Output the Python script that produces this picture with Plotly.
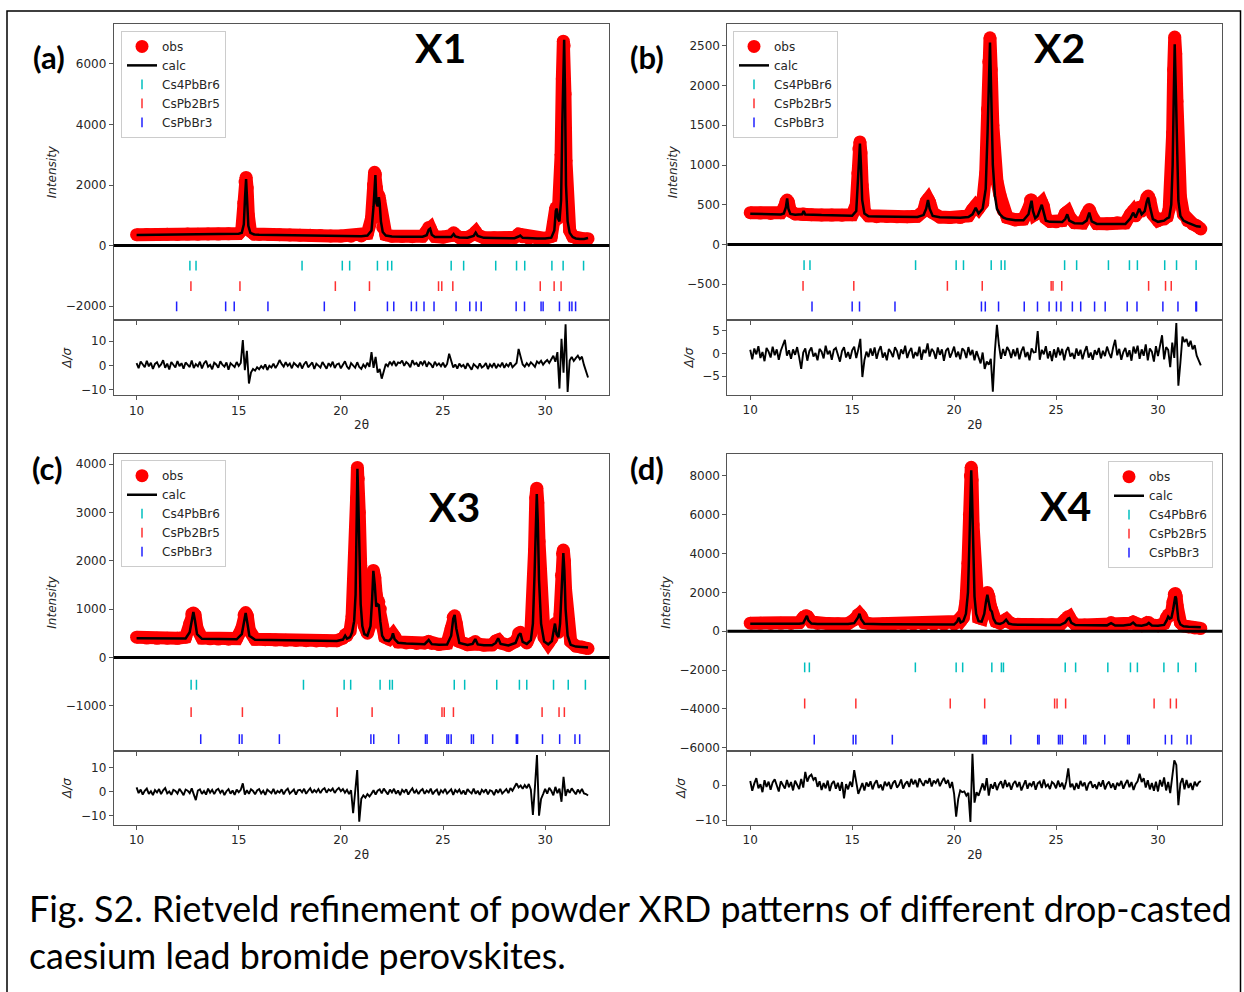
import plotly.graph_objects as go

# ---------------- data ----------------
# Panel (a) X1
x_a = [10.0, 10.5, 11.0, 11.5, 12.0, 12.5, 13.0, 13.5, 14.0, 14.5,
       15.0, 15.15, 15.25, 15.31, 15.36, 15.41, 15.47, 15.57, 15.75, 16.0,
       16.5, 17.0, 17.5, 18.0, 18.5, 19.0, 19.5, 20.0, 20.5, 21.0,
       21.3, 21.5, 21.6, 21.65, 21.69, 21.74, 21.8, 21.86, 21.9, 21.96,
       22.05, 22.2, 22.5, 23.0, 23.5, 24.0, 24.2, 24.3, 24.37, 24.45,
       24.6, 25.0, 25.4, 25.52, 25.6, 25.8, 26.2, 26.5, 26.6, 26.7,
       27.0, 27.5, 28.0, 28.5, 28.7, 28.78, 28.9, 29.2, 29.6, 30.0,
       30.3, 30.45, 30.52, 30.57, 30.63, 30.7, 30.78, 30.84, 30.89, 30.93,
       30.97, 31.02, 31.1, 31.2, 31.35, 31.5, 31.7, 31.9, 32.1]
obs_a = [360, 370, 365, 375, 370, 380, 375, 385, 380, 390,
         400, 520, 1400, 2100, 2250, 1900, 1000, 480, 380, 370,
         365, 360, 350, 345, 340, 330, 320, 315, 310, 320,
         400, 900, 2000, 2420, 2350, 1900, 1600, 1650, 1500, 1100,
         600, 360, 310, 300, 295, 310, 480, 600, 580, 450,
         300, 280, 330, 420, 360, 270, 270, 380, 450, 350,
         260, 255, 250, 270, 380, 370, 290, 240, 235, 240,
         300, 800, 1250, 1200, 900, 1400, 3000, 5500, 6750, 6600,
         5000, 2800, 1100, 500, 300, 250, 230, 220, 230]
calc_a = [350, 355, 358, 360, 362, 365, 368, 372, 375, 380,
          390, 420, 700, 1600, 2200, 1500, 650, 420, 370, 360,
          355, 350, 345, 340, 335, 325, 318, 310, 305, 305,
          330, 500, 1300, 2200, 2330, 1400, 1300, 1600, 1400, 800,
          450, 330, 300, 295, 290, 295, 340, 520, 560, 360,
          285, 275, 280, 380, 300, 265, 262, 320, 430, 320,
          255, 250, 245, 242, 300, 330, 255, 238, 235, 235,
          260, 500, 1150, 1220, 900, 800, 1500, 4000, 6400, 6800,
          5200, 2000, 800, 420, 280, 235, 220, 215, 250]
res_a = [0.9, -1.2, 1.6, 0.2, -0.8, 1.9, -0.4, 1.1, -1.5, 0.6,
         1.3, -0.6, 0.4, 2.1, -1.0, 0.7, -1.7, 1.4, 0.1, -0.9,
         1.8, -0.3, 0.9, -1.4, 1.2, 0.3, -0.7, 2.0, -1.1, 0.5,
         -0.4, 1.5, -1.3, 0.8, 1.9, -0.6, 0.2, -1.6, 1.1, 0.4,
         -1.0, 1.7, 0.3, -0.5, 1.2, -1.8, 0.9, 0.1, -0.7, 1.4,
         -0.2, 1.0, 10.5, -2.0, 6.0, -7.5, -3.0, -1.5, -2.2, -0.8,
         -1.6, -0.3, -1.2, 0.4, -1.9, -0.2, -0.9, 0.7, -1.1, 0.3,
         2.2, 0.6, -0.5, 1.3, -0.2, 0.8, -1.2, 1.0, 0.2, -0.6,
         1.1, -1.3, 0.5, 1.6, -0.8, 0.3, 1.2, -1.5, 0.7, -0.1,
         -0.9, 1.4, 0.2, -1.4, 0.9, -0.3, 1.5, -1.1, 0.4, 0.8,
         -1.2, 0.6, 1.7, -0.5, -1.6, 0.9, 0.1, -1.0, 1.3, -0.7,
         -1.5, 0.3, -0.8, 1.1, -0.6, 5.5, -1.0, 3.5, -3.0, -1.5,
         -5.5, -2.0, 0.6, -0.4, 1.5, 0.2, 1.8, -0.3, 1.2, 0.9,
         2.0, -0.2, 1.4, 0.6, -0.8, 2.1, 0.4, 1.0, -0.5, 1.6,
         0.3, 1.9, -0.6, 1.2, 0.5, -1.0, 1.5, 0.0, 0.8, -0.4,
         1.1, -0.8, 0.6, 4.8, 1.5, -0.9, 0.4, -1.3, 0.7, -0.5,
         0.2, -1.4, 0.9, -0.6, -1.8, 0.5, -0.2, -1.1, 0.8, -0.9,
         -0.3, 1.0, -1.5, 0.4, -0.7, 0.9, -1.2, 0.3, -0.5, 1.1,
         -1.0, 0.5, -0.4, 1.2, -0.8, 0.2, 1.0, 6.8, 3.0, 0.4,
         -0.5, 0.9, -0.2, 1.3, 0.4, -0.6, 1.6, 0.8, 1.9, 0.3,
         1.4, 2.2, 1.0, 2.6, 4.0, 1.5, 5.5, -9.6, 11.0, -3.0,
         17.0, -11.0, 2.0, 3.5, 1.8, 3.0, 4.0, 2.5, 3.6, 0.2,
         -3.0, -5.0]
cs4_a = [12.61, 12.91, 18.10, 20.07, 20.43, 21.79, 22.29, 22.49, 25.40, 26.01,
         27.58, 28.60, 29.00, 30.33, 30.88, 31.88]
cs2_a = [12.66, 15.06, 19.73, 21.40, 24.78, 24.94, 25.48, 29.76, 30.44, 30.78]
cs3_a = [11.96, 14.36, 14.78, 16.43, 19.19, 20.68, 22.28, 22.59, 23.45, 23.70,
         24.07, 24.56, 25.64, 26.31, 26.62, 26.87, 28.58, 28.99, 29.80, 29.90,
         30.70, 31.19, 31.31, 31.49]
lev_a = [-660, -1335, -2010]

# Panel (b) X2
x_b = [10.0, 10.5, 11.0, 11.5, 11.65, 11.75, 11.81, 11.87, 11.97, 12.2,
       12.55, 12.62, 12.7, 13.0, 13.5, 14.0, 14.5, 15.0, 15.2, 15.28,
       15.33, 15.38, 15.43, 15.49, 15.6, 15.8, 16.2, 16.7, 17.2, 17.7,
       18.2, 18.5, 18.63, 18.72, 18.8, 18.95, 19.3, 19.8, 20.3, 20.7,
       20.9, 21.06, 21.2, 21.4, 21.55, 21.64, 21.7, 21.76, 21.82, 21.9,
       22.0, 22.1, 22.25, 22.4, 22.6, 23.0, 23.4, 23.65, 23.75, 23.8,
       23.87, 23.98, 24.1, 24.22, 24.3, 24.38, 24.5, 24.7, 25.0, 25.3,
       25.45, 25.55, 25.65, 25.9, 26.3, 26.5, 26.63, 26.75, 27.0, 27.5,
       28.0, 28.4, 28.65, 28.78, 28.9, 29.0, 29.08, 29.2, 29.35, 29.45,
       29.52, 29.6, 29.75, 30.0, 30.3, 30.45, 30.55, 30.65, 30.72, 30.77,
       30.82, 30.87, 30.93, 31.0, 31.1, 31.25, 31.45, 31.7, 31.9, 32.1]
obs_b = [400, 395, 390, 400, 460, 540, 560, 530, 420, 385,
         380, 385, 378, 375, 372, 370, 368, 375, 500, 900,
         1200, 1290, 1150, 750, 420, 360, 350, 352, 348, 350,
         355, 420, 540, 570, 530, 400, 345, 340, 338, 360,
         440, 490, 450, 520, 900, 1700, 2300, 2600, 2200, 1500,
         1000, 800, 620, 430, 340, 310, 320, 450, 560, 560,
         500, 380, 400, 510, 530, 480, 330, 290, 285, 300,
         390, 410, 350, 275, 270, 380, 440, 360, 262, 260,
         275, 270, 380, 420, 360, 420, 470, 420, 480, 590,
         610, 560, 380, 300, 320, 350, 450, 800, 1400, 2200,
         2610, 2400, 1800, 1000, 600, 380, 300, 260, 235, 195]
calc_b = [388, 385, 382, 378, 390, 470, 580, 450, 385, 375,
          380, 420, 378, 372, 370, 368, 365, 362, 420, 800,
          1150, 1270, 1000, 560, 390, 355, 352, 350, 348, 346,
          346, 370, 450, 560, 450, 360, 342, 338, 336, 345,
          380, 460, 390, 450, 700, 1400, 2100, 2540, 1900, 1000,
          620, 450, 380, 340, 320, 305, 305, 380, 500, 550,
          420, 330, 360, 450, 500, 420, 300, 285, 282, 282,
          320, 380, 300, 268, 264, 300, 400, 290, 258, 255,
          252, 258, 330, 400, 340, 390, 450, 380, 420, 540,
          590, 480, 320, 285, 300, 330, 340, 500, 1000, 1800,
          2520, 2000, 1100, 550, 360, 300, 275, 245, 228, 222]
res_b = [0.8, -1.3, 1.1, -0.2, 1.6, -1.0, 0.3, -1.7, 1.2, 0.4,
         -0.9, 1.5, -0.4, 0.9, -1.4, 0.6, 1.8, 3.0, -0.5, 0.7,
         -1.2, 0.9, -0.3, 1.4, -0.8, -3.4, 0.2, 1.1, -1.6, 0.5,
         1.3, -0.7, 0.1, -1.5, 1.0, 0.4, -1.1, 1.7, -0.2, 0.6,
         -1.4, 0.8, 1.2, -0.6, -1.8, 0.5, 1.4, -0.9, 0.3, -1.2,
         0.7, 1.5, -1.0, 0.9, 3.2, -5.2, -1.5, 0.4, -0.8, 1.1,
         -0.5, 1.3, -1.2, 0.6, 1.6, -0.9, 0.2, -1.5, 1.0, 0.3,
         -0.8, 1.4, 0.5, -1.3, 0.9, -0.1, 1.7, -1.0, 0.4, 1.2,
         -1.1, 0.3, -0.6, 1.5, -1.4, 0.8, 0.1, 2.2, -0.7, 1.0,
         0.4, -1.2, 1.3, -0.3, 0.9, -1.6, 0.6, 1.2, -0.9, 0.2,
         1.5, -0.8, 0.4, -1.3, 1.1, 0.6, -1.0, 1.4, -0.4, 0.8,
         -1.5, 0.5, -1.0, -2.2, 0.2, -3.4, -1.8, -2.5, -1.2, -8.4,
         0.5, 6.3, 1.8, -1.2, 1.0, -0.5, 1.4, 0.6, -1.0, 0.9,
         -0.6, 1.2, -1.3, 0.5, 1.5, -0.8, 0.3, -1.5, 1.1, 0.2,
         0.3, 4.9, -1.4, 0.8, -0.2, 1.6, -1.1, 0.5, -1.7, 0.9,
         -0.9, 1.3, -0.4, 1.0, -1.5, 0.6, 1.4, -0.7, 0.1, -1.2,
         1.1, -0.5, 0.8, -1.3, 0.4, 1.6, -0.9, 0.2, -1.4, 0.7,
         -0.3, 1.2, -1.1, 0.6, -0.6, 1.5, 0.1, -1.0, 1.3, 3.0,
         -0.4, 1.0, -1.4, 0.3, 1.2, -0.8, 0.7, -1.6, 1.5, 0.0,
         1.7, -1.2, 0.9, -0.5, 2.0, -1.5, 1.1, 0.4, -1.8, 1.6,
         -0.6, 2.1, 4.0, -1.3, 1.4, 0.8, -3.0, 2.4, -1.0, 6.7,
         -7.1, -2.0, 3.7, 2.5, 3.2, 1.5, 2.8, 0.9, 1.8, -0.5,
         -1.5, -2.6]
cs4_b = [12.64, 12.93, 18.11, 20.10, 20.46, 21.82, 22.31, 22.49, 25.42, 26.01,
         27.57, 28.60, 28.99, 30.33, 30.91, 31.87]
cs2_b = [12.59, 15.08, 19.67, 21.38, 24.76, 24.85, 25.28, 29.54, 30.37, 30.65]
cs3_b = [13.03, 15.00, 15.36, 17.10, 21.34, 21.53, 22.18, 23.44, 24.09, 24.66,
         25.02, 25.24, 25.80, 26.21, 26.89, 27.41, 28.49, 28.97, 30.24, 30.98,
         31.86, 31.89]
lev_b = [-260, -520, -780]

# Panel (c) X3
x_c = [10.0, 10.5, 11.0, 11.5, 12.0, 12.4, 12.6, 12.7, 12.78, 12.86,
       12.96, 13.2, 13.6, 14.0, 14.5, 14.9, 15.15, 15.26, 15.34, 15.42,
       15.52, 15.8, 16.3, 16.8, 17.3, 17.8, 18.3, 18.8, 19.3, 19.8,
       20.1, 20.21, 20.3, 20.45, 20.55, 20.65, 20.72, 20.77, 20.81, 20.85,
       20.9, 20.97, 21.05, 21.15, 21.3, 21.45, 21.53, 21.59, 21.66, 21.73,
       21.8, 21.86, 21.93, 22.02, 22.15, 22.35, 22.48, 22.55, 22.63, 22.8,
       23.2, 23.7, 24.1, 24.3, 24.45, 24.8, 25.2, 25.4, 25.5, 25.57,
       25.65, 25.8, 26.2, 26.45, 26.58, 26.7, 27.0, 27.4, 27.58, 27.7,
       27.82, 28.2, 28.55, 28.7, 28.79, 28.9, 29.1, 29.3, 29.4, 29.48,
       29.54, 29.59, 29.64, 29.7, 29.8, 29.95, 30.15, 30.33, 30.42, 30.48,
       30.56, 30.65, 30.73, 30.8, 30.85, 30.89, 30.94, 31.0, 31.1, 31.25,
       31.5, 31.8, 32.1]
obs_c = [420, 400, 395, 398, 395, 420, 700, 900, 920, 880,
         600, 400, 385, 380, 378, 390, 600, 880, 930, 860,
         560, 375, 368, 360, 355, 350, 345, 342, 340, 345,
         400, 470, 450, 550, 850, 1500, 2300, 3300, 3930, 3700,
         3000, 1900, 1100, 650, 500, 700, 1300, 1800, 1650, 1300,
         1150, 1150, 1000, 650, 420, 380, 440, 480, 430, 320,
         300, 290, 300, 330, 290, 270, 290, 600, 830, 860,
         700, 330, 265, 300, 330, 280, 255, 260, 340, 360,
         300, 250, 330, 500, 520, 420, 300, 500, 1200, 2200,
         3300, 3500, 3200, 2400, 1000, 420, 290, 400, 620, 700,
         560, 520, 900, 1700, 2150, 2220, 2000, 1400, 700, 330,
         235, 215, 185]
calc_c = [395, 393, 392, 390, 388, 392, 520, 800, 940, 760,
          480, 385, 380, 378, 375, 375, 480, 780, 920, 720,
          450, 365, 360, 355, 350, 347, 344, 342, 340, 340,
          370, 450, 390, 420, 520, 750, 1300, 2400, 3900, 3300,
          2200, 1100, 650, 480, 450, 650, 1200, 1790, 1500, 1050,
          1100, 1080, 750, 450, 360, 340, 400, 500, 380, 305,
          290, 280, 275, 360, 275, 265, 268, 450, 800, 880,
          600, 300, 260, 280, 380, 270, 252, 250, 300, 395,
          280, 248, 300, 460, 500, 320, 280, 360, 700, 1700,
          2900, 3380, 2800, 1600, 700, 330, 270, 340, 560, 700,
          480, 420, 700, 1400, 2000, 2160, 1800, 1000, 450, 260,
          225, 212, 205]
res_c = [1.8, -0.6, 0.9, -1.2, 0.4, 1.3, -0.9, 0.2, -1.4, 0.7,
         -0.3, 1.1, -1.0, 0.6, 1.5, -0.7, 0.1, -1.3, 0.8, 0.3,
         -0.8, 1.2, 0.0, -1.5, 0.9, 0.4, -0.6, 1.4, -1.1, -3.5,
         0.5, 1.0, -0.9, 0.3, -1.2, 1.3, -0.4, 0.8, -1.0, 0.6,
         1.2, -0.5, 0.7, -1.4, 0.2, 1.1, -0.8, 0.5, -1.3, 0.9,
         -0.2, 0.8, 3.5, -1.2, 0.6, -0.9, 1.0, 0.3, -1.1, 0.5,
         1.1, -0.7, 0.4, -1.3, 0.9, 0.2, -0.6, 1.2, -1.0, 0.3,
         -0.4, 1.0, -1.1, 0.5, 1.3, -0.8, 0.1, 0.9, -1.2, 0.6,
         0.8, -0.3, 1.2, -0.9, 0.4, 1.4, -0.5, 0.7, -0.2, 1.1,
         -0.6, 0.9, 1.5, -0.4, 1.0, 0.3, 1.3, -0.5, 0.8, 1.6,
         0.2, 1.1, -0.4, 0.8, -1.0, 0.6, -9.0, 1.0, 9.0, -12.5,
         -3.0, -1.5, -2.5, -1.0, -2.0, -0.8, 0.6, -1.2, 0.4, 1.0,
         -0.7, 1.3, 0.2, -1.1, 0.9, -0.3, 1.2, -0.9, 0.5, -1.4,
         0.8, -0.2, 1.0, -1.2, 0.3, 1.4, -0.6, 0.7, -1.0, 0.4,
         1.1, -0.9, 0.5, -0.3, 1.3, -1.1, 0.2, 0.9, -1.4, 0.6,
         -0.4, 1.2, -0.8, 0.3, 1.0, -1.3, 0.7, -0.2, 0.9, -1.0,
         0.5, -1.2, 1.1, 0.0, -0.7, 1.3, -0.9, 0.4, -1.3, 0.8,
         -0.2, 1.0, -1.1, 0.6, 0.2, -1.4, 0.9, -0.5, 1.2, -0.8,
         0.3, 1.1, -0.6, 1.5, 0.4, 2.2, 3.5, 1.8, 2.6, 1.2,
         2.8, 1.5, 3.2, 0.8, -9.7, 2.0, 15.3, -10.0, -3.0, -1.0,
         1.2, -0.8, 1.6, 0.4, -1.5, 2.0, -0.6, 1.3, -4.2, 6.2,
         -1.8, 1.0, -0.5, 1.4, 0.3, -1.1, 0.9, -0.4, 1.2, -0.7,
         -1.0, -1.6]
cs4_c = [12.67, 12.93, 18.17, 20.16, 20.48, 21.92, 22.39, 22.52, 25.55, 26.06,
         27.63, 28.74, 29.10, 30.41, 31.13, 31.97]
cs2_c = [12.67, 15.18, 19.82, 21.53, 24.95, 25.06, 25.51, 29.85, 30.68, 30.94]
cs3_c = [13.14, 15.03, 15.16, 16.99, 21.47, 21.61, 22.83, 24.14, 24.22, 25.19,
         25.27, 25.40, 26.39, 26.49, 27.43, 28.59, 28.65, 29.87, 30.71, 31.46,
         31.69]
lev_c = [-565, -1130, -1690]

# Panel (d) X4
x_d = [10.0, 10.5, 11.0, 11.5, 12.0, 12.4, 12.6, 12.72, 12.78, 12.85,
       13.0, 13.3, 13.8, 14.3, 14.8, 15.1, 15.28, 15.36, 15.44, 15.6,
       15.9, 16.5, 17.0, 17.5, 18.0, 18.5, 19.0, 19.5, 20.0, 20.15,
       20.23, 20.32, 20.45, 20.58, 20.68, 20.75, 20.8, 20.84, 20.88, 20.93,
       21.0, 21.08, 21.2, 21.35, 21.48, 21.56, 21.63, 21.7, 21.78, 21.85,
       21.93, 22.05, 22.25, 22.42, 22.55, 22.68, 22.9, 23.3, 23.8, 24.3,
       24.8, 25.2, 25.45, 25.58, 25.65, 25.75, 25.95, 26.4, 27.0, 27.5,
       27.7, 27.9, 28.3, 28.65, 28.78, 28.92, 29.2, 29.45, 29.55, 29.7,
       30.0, 30.3, 30.42, 30.5, 30.58, 30.66, 30.74, 30.8, 30.85, 30.89,
       30.94, 31.0, 31.1, 31.25, 31.5, 31.8, 32.1]
obs_d = [420, 410, 405, 410, 405, 450, 700, 800, 790, 700,
         480, 400, 395, 390, 400, 600, 850, 880, 780, 450,
         380, 375, 372, 370, 365, 360, 355, 352, 370, 500,
         600, 520, 700, 1500, 3500, 6000, 8000, 8450, 7800, 5500,
         3000, 1500, 700, 650, 1200, 1900, 2000, 1800, 1300, 1100,
         800, 500, 420, 520, 620, 480, 360, 350, 345, 340,
         335, 340, 600, 750, 740, 550, 340, 320, 310, 330,
         450, 320, 300, 420, 480, 360, 300, 430, 450, 330,
         290, 400, 700, 850, 800, 900, 1500, 1900, 1950, 1800,
         1300, 800, 450, 280, 220, 170, 150]
calc_d = [390, 388, 386, 384, 382, 385, 420, 650, 800, 560,
          400, 380, 378, 376, 376, 420, 700, 900, 620, 390,
          370, 366, 362, 358, 354, 350, 346, 342, 345, 500,
          700, 450, 520, 900, 2000, 4500, 7200, 8300, 7000, 4000,
          1800, 900, 520, 500, 900, 1500, 1880, 1500, 1100, 1020,
          650, 420, 380, 450, 600, 400, 345, 340, 335, 330,
          325, 320, 450, 650, 680, 430, 320, 310, 305, 305,
          420, 300, 295, 350, 450, 310, 290, 350, 430, 300,
          285, 330, 550, 750, 650, 700, 1100, 1600, 1800, 1700,
          1100, 600, 350, 260, 230, 215, 205]
res_d = [1.2, -1.6, 0.5, 2.0, -0.9, 0.3, -2.0, 1.4, -0.5, 1.0,
         -1.3, 0.8, 1.7, -0.4, -1.8, 1.1, 0.2, -1.0, 1.5, -0.6,
         0.9, -1.5, 1.3, 0.1, -1.1, 1.8, -0.7, 3.8, 1.0, 2.5,
         3.0, 1.5, 2.2, -0.5, 1.1, -1.4, 0.6, -0.9, 1.3, -1.7,
         0.4, 1.2, -1.0, 0.7, -1.6, 0.9, -3.8, 0.3, -1.2, 1.0,
         -0.5, 4.3, 1.2, -2.5, -1.0, 0.6, -1.5, 0.8, -0.4, 1.1,
         -1.2, 0.5, 1.4, -0.8, 0.2, -1.5, 1.0, -0.3, 0.9, -1.1,
         0.6, 1.3, -0.7, 0.1, 1.6, -1.0, 0.4, 1.1, -0.5, 1.8,
         0.2, 1.5, -0.6, 1.9, 0.8, -0.2, 1.4, 0.5, 2.0, -0.4,
         1.3, 0.6, 1.8, -0.3, 1.0, 2.1, 0.4, 1.5, -0.8, 0.9,
         -2.5, -9.0, -4.0, -1.5, -2.0, -1.8, -3.0, -2.2, -10.5, 9.0,
         -5.0, -2.0, -3.0, -1.2, 0.5, -1.5, 2.0, -3.0, 0.3, -1.0,
         0.8, -1.4, 0.2, 1.1, -0.9, 1.5, -0.5, 0.7, -1.3, 0.4,
         1.2, -0.6, 0.9, -1.5, 0.3, 1.4, -1.0, 0.6, -0.2, 1.1,
         -1.3, 0.5, 1.0, -0.8, 1.6, -0.4, 0.2, -1.1, 0.9, 0.4,
         -0.9, 1.3, -0.5, 0.7, -1.2, 1.0, 4.8, -0.6, 0.4, -1.4,
         0.6, -1.0, 1.2, -0.3, 0.8, -1.5, 0.4, 1.1, -0.7, 0.2,
         -1.1, 0.9, -0.4, 1.4, -1.2, 0.3, 1.0, -0.8, 0.5, -1.3,
         0.7, -0.2, 1.2, -1.0, 0.4, 1.5, -0.6, 0.9, -1.4, 0.3,
         1.1, 3.3, 0.9, 2.0, -0.7, 1.4, -1.2, 0.6, -1.6, 1.0,
         -1.8, 1.5, -0.4, 2.2, -1.5, 0.9, -2.3, 1.8, 7.1, 5.8,
         -5.7, 0.5, 2.0, -1.2, 1.5, -0.8, 0.6, -1.4, 1.0, -0.3,
         0.8, 1.2]
cs4_d = [12.67, 12.90, 18.10, 20.10, 20.42, 21.85, 22.32, 22.42, 25.45, 25.96,
         27.54, 28.65, 28.99, 30.29, 30.99, 31.85]
cs2_d = [12.67, 15.18, 19.81, 21.50, 24.93, 25.05, 25.47, 29.81, 30.61, 30.90]
cs3_d = [13.14, 15.05, 15.18, 16.97, 21.43, 21.50, 21.58, 22.78, 24.10, 24.17,
         25.12, 25.20, 25.31, 26.36, 26.46, 27.39, 28.51, 28.59, 30.36, 30.67,
         31.43, 31.62]
lev_d = [-1860, -3720, -5580]

res_start = 10.0      # residual sampling grid start (2theta)
res_step = 0.1        # residual sampling step

phase_names = ["Cs4PbBr6", "CsPb2Br5", "CsPbBr3"]
phase_colors = ["#00bfbf", "#ff3030", "#2020ff"]
sample_names = ["X1", "X2", "X3", "X4"]
panel_tags = ["(a)", "(b)", "(c)", "(d)"]
caption_1 = "Fig. S2. Rietveld refinement of powder XRD patterns of different drop-casted"
caption_2 = "caesium lead bromide perovskites."

# ---------------- layout helpers ----------------
W, H = 1244, 992
def fx(p):
    return p / W
def fy(p):
    return 1 - p / H

panels = [
    dict(x=x_a, obs=obs_a, calc=calc_a, res=res_a, ticks=[cs4_a, cs2_a, cs3_a], lev=lev_a,
         xpx=(113.7, 609.3), mainpx=(24, 321.7), respx=(321.7, 396.7),
         yr=[-2470, 7320], dt=2000, rr=[-12.3, 18.6], rdt=10,
         leg=dict(x=fx(121), y=fy(31), xanchor="left", yanchor="top"),
         name_pos=(440, 48), tag_pos=(49, 57)),
    dict(x=x_b, obs=obs_b, calc=calc_b, res=res_b, ticks=[cs4_b, cs2_b, cs3_b], lev=lev_b,
         xpx=(727.4, 1222), mainpx=(24, 321.7), respx=(321.7, 396.4),
         yr=[-955, 2775], dt=500, rr=[-9.1, 7.27], rdt=5,
         leg=dict(x=fx(733), y=fy(31), xanchor="left", yanchor="top"),
         name_pos=(1059, 48), tag_pos=(647, 57)),
    dict(x=x_c, obs=obs_c, calc=calc_c, res=res_c, ticks=[cs4_c, cs2_c, cs3_c], lev=lev_c,
         xpx=(113.7, 609.3), mainpx=(455.7, 754.3), respx=(754.3, 828.3),
         yr=[-1940, 4210], dt=1000, rr=[-13.9, 16.9], rdt=10,
         leg=dict(x=fx(121), y=fy(462), xanchor="left", yanchor="top"),
         name_pos=(454, 509), tag_pos=(47, 470)),
    dict(x=x_d, obs=obs_d, calc=calc_d, res=res_d, ticks=[cs4_d, cs2_d, cs3_d], lev=lev_d,
         xpx=(727.4, 1222), mainpx=(455.7, 754.3), respx=(754.3, 828.0),
         yr=[-6180, 9140], dt=2000, rr=[-11.3, 9.7], rdt=10,
         leg=dict(x=fx(1213), y=fy(463), xanchor="right", yanchor="top"),
         name_pos=(1065, 508), tag_pos=(647, 470)),
]

XR = [8.88, 33.14]
tick_font = dict(family="DejaVu Sans", size=12, color="#262626")
frame = "#555555"

fig = go.Figure()
layout = dict(width=W, height=H, margin=dict(l=0, r=0, t=0, b=0),
              paper_bgcolor="white", plot_bgcolor="white", showlegend=True)
shapes = []
annotations = []

for i, p in enumerate(panels):
    nm = 2 * i + 1
    nr = 2 * i + 2
    xm = "x" if nm == 1 else "x%d" % nm
    ym = "y" if nm == 1 else "y%d" % nm
    xr_ = "x%d" % nr
    yr_ = "y%d" % nr
    legname = "legend" if i == 0 else "legend%d" % (i + 1)

    # obs band (thick line) + markers
    fig.add_trace(go.Scatter(x=p["x"], y=p["obs"], mode="lines", xaxis=xm, yaxis=ym,
                             line=dict(color="#ff0000", width=13), showlegend=False,
                             hoverinfo="skip"))
    fig.add_trace(go.Scatter(x=p["x"], y=p["obs"], mode="markers", xaxis=xm, yaxis=ym,
                             marker=dict(color="#ff0000", size=13), name="obs",
                             legend=legname))
    fig.add_trace(go.Scatter(x=p["x"], y=p["calc"], mode="lines", xaxis=xm, yaxis=ym,
                             line=dict(color="black", width=2.5), name="calc",
                             legend=legname))
    for k in range(3):
        tk = p["ticks"][k]
        fig.add_trace(go.Scatter(x=tk, y=[p["lev"][k]] * len(tk), mode="markers",
                                 xaxis=xm, yaxis=ym,
                                 marker=dict(symbol="line-ns", size=7,
                                             line=dict(width=1.5, color=phase_colors[k])),
                                 name=phase_names[k], legend=legname))
    rx = [round(res_start + res_step * j, 2) for j in range(len(p["res"]))]
    fig.add_trace(go.Scatter(x=rx, y=p["res"], mode="lines", xaxis=xr_, yaxis=yr_,
                             line=dict(color="black", width=1.9), showlegend=False))

    xdom = [fx(p["xpx"][0]), fx(p["xpx"][1])]
    common_x = dict(range=XR, domain=xdom, showline=True, mirror=True, linecolor=frame,
                    linewidth=1, ticks="outside", ticklen=4, tickcolor=frame,
                    tickvals=[10, 15, 20, 25, 30], showgrid=False, zeroline=False,
                    tickfont=tick_font)
    layout["xaxis" if nm == 1 else "xaxis%d" % nm] = dict(common_x, anchor=ym,
                                                          showticklabels=False)
    layout["xaxis%d" % nr] = dict(common_x, anchor=yr_,
                                  title=dict(text="2θ", font=tick_font, standoff=4))
    layout["yaxis" if nm == 1 else "yaxis%d" % nm] = dict(
        range=p["yr"], dtick=p["dt"], tick0=0, domain=[fy(p["mainpx"][1]), fy(p["mainpx"][0])],
        anchor=xm, showline=True, mirror=True, linecolor=frame, linewidth=1,
        ticks="outside", ticklen=4, tickcolor=frame, showgrid=False, zeroline=False,
        tickfont=tick_font, title=dict(text="<i>Intensity</i>", font=tick_font, standoff=6))
    layout["yaxis%d" % nr] = dict(
        range=p["rr"], dtick=p["rdt"], tick0=0, domain=[fy(p["respx"][1]), fy(p["respx"][0])],
        anchor=xr_, showline=True, mirror=True, linecolor=frame, linewidth=1,
        ticks="outside", ticklen=4, tickcolor=frame, showgrid=False, zeroline=False,
        tickfont=tick_font, title=dict(text="<i>Δ/σ</i>", font=tick_font, standoff=6))

    layout[legname] = dict(p["leg"], bgcolor="rgba(255,255,255,0.85)", bordercolor="#cccccc",
                           borderwidth=1, font=dict(family="DejaVu Sans", size=12, color="#262626"),
                           tracegroupgap=0, itemwidth=30)

    shapes.append(dict(type="line", xref=xm + " domain", yref=ym, x0=0, x1=1, y0=0, y1=0,
                       line=dict(color="black", width=3), layer="above"))

    annotations.append(dict(text=sample_names[i], x=fx(p["name_pos"][0]), y=fy(p["name_pos"][1]),
                            xref="paper", yref="paper", showarrow=False, xanchor="center",
                            yanchor="middle",
                            font=dict(family="Lato", size=41, color="black", weight=700)))
    annotations.append(dict(text=panel_tags[i], x=fx(p["tag_pos"][0]), y=fy(p["tag_pos"][1]),
                            xref="paper", yref="paper", showarrow=False, xanchor="center",
                            yanchor="middle",
                            font=dict(family="Lato", size=31, color="black", weight=700)))

annotations.append(dict(text=caption_1, x=fx(27), y=fy(912), xref="paper", yref="paper",
                        showarrow=False, xanchor="left", yanchor="middle",
                        font=dict(family="Lato", size=35.8, color="black")))
annotations.append(dict(text=caption_2, x=fx(27), y=fy(959), xref="paper", yref="paper",
                        showarrow=False, xanchor="left", yanchor="middle",
                        font=dict(family="Lato", size=35.8, color="black")))

shapes.append(dict(type="rect", xref="paper", yref="paper", x0=fx(7), x1=fx(1240.5),
                   y0=-0.05, y1=fy(11), line=dict(color="black", width=1.5)))

layout["shapes"] = shapes
layout["annotations"] = annotations
fig.update_layout(**layout)

# remove the default page margin so the figure sits at the window's top-left corner
fig.write_html("out.html",
               config={"displayModeBar": False},
               post_script="document.body.style.margin='0px';document.body.style.overflow='hidden';")
